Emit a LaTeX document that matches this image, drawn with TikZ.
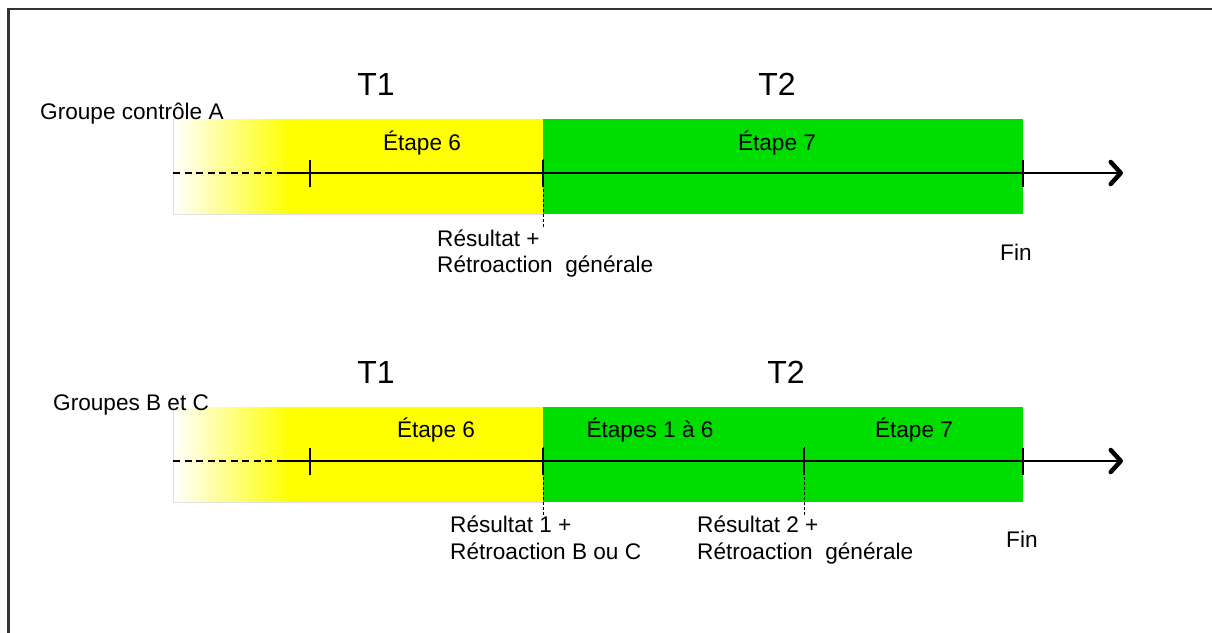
\documentclass[tikz,border=0pt]{standalone}
\usepackage{fontspec}
\setmainfont{Liberation Sans}
\usetikzlibrary{arrows.meta}
\definecolor{yel}{RGB}{255,255,0}
\definecolor{grn}{RGB}{0,221,0}
\tikzset{
  lbl/.style={inner sep=0pt,anchor=base west,font=\fontsize{22.6}{26}\selectfont},
  lblc/.style={inner sep=0pt,anchor=base,font=\fontsize{22.6}{26}\selectfont},
  tlbl/.style={inner sep=0pt,anchor=base,font=\fontsize{32}{36}\selectfont},
  axis/.style={line width=2pt,-{Straight Barb[length=10pt,width=22pt,line width=4.5pt,round]}},
  dashaxis/.style={line width=1.6pt,dash pattern=on 7pt off 4.5pt},
  tick/.style={line width=1.6pt},
  drop/.style={line width=1pt,dash pattern=on 3pt off 2pt},
  frame/.style={line width=2.2pt,draw=black!80}
}
\begin{document}
\begin{tikzpicture}[x=1pt,y=-1pt]
\useasboundingbox (0,0) rectangle (1212,632);
\draw[frame] (8.5,640) -- (8.5,9) -- (1220,9);

% ---------- top row ----------
\fill[yel] (290,119) rectangle (543,214);
\shade[left color=white,right color=yel] (173,119) rectangle (291,214);
\draw[black!12,line width=0.6pt] (173,119) -- (173,214) -- (543,214);
\fill[grn] (543,119) rectangle (1023,214);

\node[tlbl] (t1a) at (376,95) {T1};
\node[tlbl] (t2a) at (777,95) {T2};
\node[lbl] (ga) at (40,119) {Groupe contrôle A};
\node[lblc] (e6a) at (422,150) {Étape 6};
\node[lblc] (e7a) at (777,150) {Étape 7};

\coordinate (a0) at (173,173);
\coordinate (a1) at (283,173);
\coordinate (aend) at (1123,173);
\coordinate (ta1) at (310,173);
\coordinate (ta2) at (543,173);
\coordinate (ta3) at (1023,173);
\draw[dashaxis] (a0) -- (a1);
\draw[axis] (a1) -- (aend);
\foreach \c in {ta1,ta2,ta3} \draw[tick] ([yshift=-13.5pt]\c.center) -- ([yshift=13.5pt]\c.center);
\coordinate (da) at (543,228);
\draw[drop] ([yshift=14pt]ta2.center) -- (da);

\node[lbl] (ra1) at (437,246) {Résultat +};
\node[lbl] (ra2) at (437,272) {Rétroaction \ générale};
\node[lbl] (fa) at (1000,260) {Fin};

% ---------- bottom row ----------
\fill[yel] (290,407) rectangle (543,502);
\shade[left color=white,right color=yel] (173,407) rectangle (291,502);
\draw[black!12,line width=0.6pt] (173,407) -- (173,502) -- (543,502);
\fill[grn] (543,407) rectangle (1023,502);

\node[tlbl] (t1b) at (376,383) {T1};
\node[tlbl] (t2b) at (786,383) {T2};
\node[lbl] (gb) at (53,410) {Groupes B et C};
\node[lblc] (e6b) at (436,437) {Étape 6};
\node[lblc] (e16b) at (650,437) {Étapes 1 à 6};
\node[lblc] (e7b) at (914,437) {Étape 7};

\coordinate (b0) at (173,461);
\coordinate (b1) at (283,461);
\coordinate (bend) at (1123,461);
\coordinate (tb1) at (310,461);
\coordinate (tb2) at (543,461);
\coordinate (tb3) at (804,461);
\coordinate (tb4) at (1023,461);
\draw[dashaxis] (b0) -- (b1);
\draw[axis] (b1) -- (bend);
\foreach \c in {tb1,tb2,tb3,tb4} \draw[tick] ([yshift=-13.5pt]\c.center) -- ([yshift=13.5pt]\c.center);
\coordinate (db1) at (543,515);
\coordinate (db2) at (804,515);
\draw[drop] ([yshift=14pt]tb2.center) -- (db1);
\draw[drop] ([yshift=14pt]tb3.center) -- (db2);

\node[lbl] (rb1) at (450,532) {Résultat 1 +};
\node[lbl] (rb2) at (450,559) {Rétroaction B ou C};
\node[lbl] (rc1) at (697,532) {Résultat 2 +};
\node[lbl] (rc2) at (697,559) {Rétroaction \ générale};
\node[lbl] (fb) at (1006,547) {Fin};
\end{tikzpicture}
\end{document}
